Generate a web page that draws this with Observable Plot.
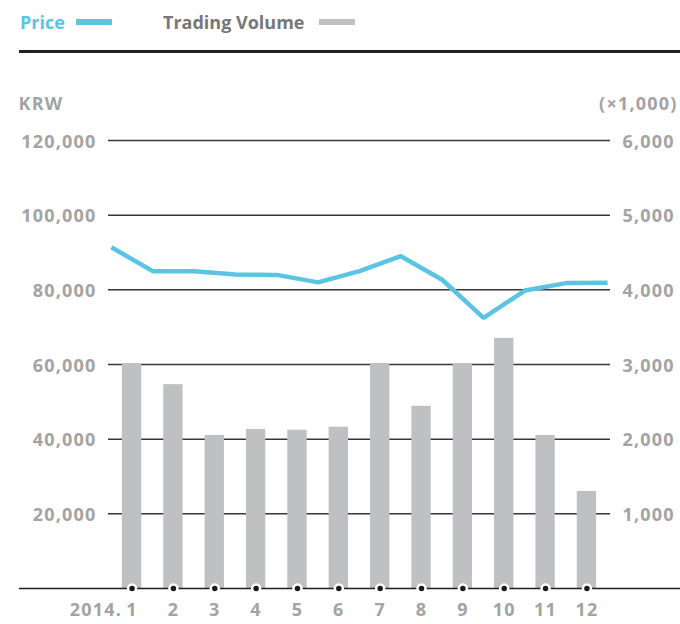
<!DOCTYPE html>
<html>
<head>
<meta charset="utf-8">
<script src="https://cdn.jsdelivr.net/npm/d3@7"></script>
<script src="https://cdn.jsdelivr.net/npm/@observablehq/plot@0.6"></script>
<style>
  html, body { margin: 0; padding: 0; background: #fff; }
  body { width: 680px; font-family: "Open Sans", Roboto, sans-serif; }
  #legend { position: relative; height: 52px; }
  #legend .lab { position: absolute; top: 13px; font-size: 18px; line-height: 18px; font-weight: 700; white-space: nowrap; }
  #legend .sw { position: absolute; top: 19px; width: 36px; height: 6px; }
  #legend .rule { position: absolute; left: 19px; top: 50px; width: 661px; height: 3px; background: #231f20; }
  #chart svg { display: block; }
  #chart svg text { font-family: "Open Sans", sans-serif; font-weight: 700; letter-spacing: 1.2px; }
</style>
</head>
<body>
<div id="legend">
  <span class="lab" style="left:20px;color:#5bc4e4">Price</span>
  <div class="sw" style="left:76px;background:#5bc4e4"></div>
  <span class="lab" style="left:163px;color:#777777">Trading Volume</span>
  <div class="sw" style="left:319px;background:#c0c0c2"></div>
  <div class="rule"></div>
</div>
<div id="chart"></div>
<script>
// ---- data ----
const months = [1, 2, 3, 4, 5, 6, 7, 8, 9, 10, 11, 12];
const monthLabels = ["1", "2", "3", "4", "5", "6", "7", "8", "9", "10", "11", "12"];
const yearLabel = "2014.";
// trading volume (×1,000 shares) per month
const volume = [3010, 2730, 2050, 2130, 2120, 2160, 3015, 2440, 3010, 3350, 2050, 1300];
// price (KRW) at month boundaries (start of Jan ... end of Dec)
const pricePoints = [91400, 85000, 85000, 84100, 84000, 82000, 85000, 89000, 82700, 72500, 79800, 81800, 81900];
const priceTicks = [20000, 40000, 60000, 80000, 100000, 120000];
const volumeTicks = [1000, 2000, 3000, 4000, 5000, 6000];
const leftUnit = "KRW";
const rightUnit = "(×1,000)";

// right axis maps volume onto the price scale
const ratio = priceTicks[priceTicks.length - 1] / volumeTicks[volumeTicks.length - 1];

const volData = months.map((m, i) => ({m, v: volume[i]}));
const priceData = pricePoints.map((p, i) => ({x: i + 0.5, p}));
const fmt = d3.format(",");
const labelColor = "#a3a3a3";

const chart = Plot.plot({
  width: 680,
  height: 572,
  marginLeft: 108,
  marginRight: 70,
  marginTop: 88,
  marginBottom: 36,
  x: {domain: [0.43, 12.57]},
  y: {domain: [0, 120000]},
  style: {fontSize: "18px", fontFamily: "'Open Sans', sans-serif", background: "white"},
  marks: [
    Plot.ruleY(priceTicks, {stroke: "#3b3536", strokeWidth: 1.5}),
    Plot.rectY(volData, {
      x1: d => d.m - 0.5, x2: d => d.m + 0.5,
      y1: 0, y2: d => d.v * ratio,
      insetLeft: 11, insetRight: 11, fill: "#bfc0c2"
    }),
    Plot.ruleY([0], {stroke: "#231f20", strokeWidth: 1.5, insetLeft: -89, insetRight: -70}),
    Plot.line(priceData, {x: "x", y: "p", stroke: "#5bc4e4", strokeWidth: 4.5, strokeLinejoin: "miter", strokeLinecap: "butt"}),
    Plot.dot(volData, {x: "m", y: () => 0, r: 4, fill: "#1a1a1a", stroke: "white", strokeWidth: 2.5}),
    Plot.axisY(priceTicks, {anchor: "left", tickSize: 0, tickPadding: 12, tickFormat: fmt, fill: labelColor, label: null, dy: 1.5}),
    Plot.axisY(volumeTicks.map(v => v * ratio), {anchor: "right", tickSize: 0, tickPadding: 12, tickFormat: d => fmt(d / ratio), fill: labelColor, label: null, dy: 1.5}),
    Plot.axisX(months, {anchor: "bottom", tickSize: 0, tickPadding: 15, tickFormat: (d, i) => monthLabels[i], fill: labelColor, label: null}),
    Plot.text([{m: months[0], t: yearLabel}], {x: "m", text: "t", frameAnchor: "bottom", lineAnchor: "top", dy: 15, dx: -10, textAnchor: "end", fill: labelColor, fontSize: 18}),
    Plot.text([leftUnit], {text: d => d, frameAnchor: "top-left", dx: -90, dy: -43, textAnchor: "start", fill: labelColor, fontSize: 18}),
    Plot.text([rightUnit], {text: d => d, frameAnchor: "top-right", dx: 67, dy: -43, textAnchor: "end", fill: labelColor, fontSize: 18})
  ]
});
document.getElementById("chart").appendChild(chart);
</script>
</body>
</html>
